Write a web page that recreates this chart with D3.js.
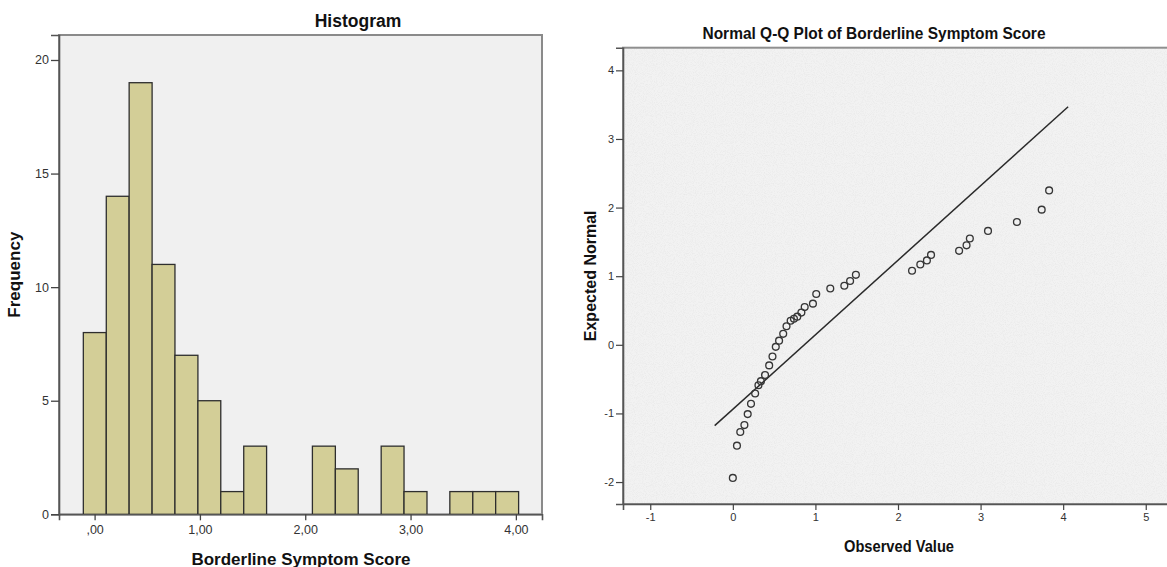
<!DOCTYPE html>
<html>
<head>
<meta charset="utf-8">
<script src="https://cdn.jsdelivr.net/npm/d3@7"></script>
<style>
  html, body { margin: 0; padding: 0; background: #ffffff; overflow: hidden; }
  svg { display: block; }
  text { font-family: "Liberation Sans", Arial, sans-serif; }
</style>
</head>
<body>
<svg id="chart" width="1167" height="567"></svg>
<script>
// Histogram of Borderline Symptom Score
const binEdges = [-0.107, 0.111, 0.328, 0.546, 0.763, 0.981, 1.198, 1.416, 1.633, 1.851,
                  2.068, 2.286, 2.503, 2.721, 2.938, 3.156, 3.373, 3.591, 3.808, 4.026];
const binCounts = [8, 14, 19, 11, 7, 5, 1, 3, 0, 0, 3, 2, 0, 3, 1, 0, 1, 1, 1];
const histXTicks = [0, 1, 2, 3, 4];
const histXTickLabels = [",00", "1,00", "2,00", "3,00", "4,00"];
const histYTicks = [0, 5, 10, 15, 20];

// Normal Q-Q plot: observed values against expected normal quantiles
const qqObserved = [0.00, 0.05, 0.09, 0.14, 0.18, 0.22, 0.27, 0.31, 0.34, 0.39,
                    0.44, 0.48, 0.52, 0.56, 0.61, 0.65, 0.70, 0.74, 0.78, 0.83,
                    0.87, 0.97, 1.01, 1.18, 1.35, 1.42, 1.49, 2.17, 2.27, 2.35,
                    2.40, 2.74, 2.83, 2.87, 3.09, 3.44, 3.74, 3.83];
const qqExpected = [-1.94, -1.47, -1.27, -1.17, -1.01, -0.86, -0.71, -0.59, -0.53, -0.44,
                    -0.30, -0.17, -0.03, 0.06, 0.16, 0.27, 0.35, 0.38, 0.41, 0.47,
                    0.55, 0.60, 0.74, 0.82, 0.86, 0.93, 1.02, 1.08, 1.17, 1.23,
                    1.31, 1.37, 1.45, 1.55, 1.66, 1.79, 1.97, 2.25];
const qqXTicks = [-1, 0, 1, 2, 3, 4, 5];
const qqYTicks = [-2, -1, 0, 1, 2, 3, 4];
// reference line: expected = (observed - mean) / sd
const refMean = 0.865;
const refSd = 0.921;
const refRange = [-0.22, 4.06];

const svg = d3.select("#chart");
const intLabel = d => String(d).replace("\u2212", "-");

// fine grain used on the Q-Q plot background
const defs = svg.append("defs");
const grain = defs.append("filter").attr("id", "grain")
  .attr("x", 0).attr("y", 0).attr("width", 1).attr("height", 1);
grain.append("feTurbulence").attr("type", "fractalNoise")
  .attr("baseFrequency", 1.1).attr("numOctaves", 1).attr("seed", 7).attr("result", "n");
grain.append("feColorMatrix").attr("type", "matrix")
  .attr("values", "0 0 0 0 0.45  0 0 0 0 0.45  0 0 0 0 0.45  0 0 0 -2.2 1.25");
grain.append("feComposite").attr("in2", "SourceGraphic").attr("operator", "in");

// ---------- Histogram ----------
const hx = d3.scaleLinear().domain([-0.338, 4.248]).range([59, 542]);
const hy = d3.scaleLinear().domain([0, 21.1]).range([514.3, 35]);

const hist = svg.append("g");
hist.append("rect")
  .attr("x", hx.range()[0]).attr("y", hy.range()[1])
  .attr("width", hx.range()[1] - hx.range()[0])
  .attr("height", hy.range()[0] - hy.range()[1])
  .attr("fill", "#f0f0f0")
  .attr("stroke", "#8a8a8a").attr("stroke-width", 2);

const bins = binCounts.map((c, i) => ({ x0: binEdges[i], x1: binEdges[i + 1], count: c }))
  .filter(b => b.count > 0);

hist.append("g").selectAll("rect").data(bins).join("rect")
  .attr("x", d => hx(d.x0))
  .attr("y", d => hy(d.count))
  .attr("width", d => hx(d.x1) - hx(d.x0))
  .attr("height", d => hy(0) - hy(d.count))
  .attr("fill", "#d3ce97")
  .attr("stroke", "#2e2e2e").attr("stroke-width", 1.3);

const hxAxis = hist.append("g").attr("transform", `translate(0,${hy(0)})`)
  .call(d3.axisBottom(hx).tickValues(histXTicks)
    .tickFormat((d, i) => histXTickLabels[i]).tickSizeOuter(0).tickSize(6).tickPadding(5));
const hyAxis = hist.append("g").attr("transform", `translate(${hx.range()[0]},0)`)
  .call(d3.axisLeft(hy).tickValues(histYTicks).tickSizeOuter(0).tickSize(8).tickPadding(2));

[hxAxis, hyAxis].forEach(a => {
  a.select(".domain").attr("stroke", "#555").attr("stroke-width", 1.6);
  a.selectAll(".tick line").attr("stroke", "#444").attr("stroke-width", 1.3);
  a.selectAll(".tick text").attr("fill", "#333").style("font-size", "12.5px");
});

hist.append("text").attr("x", 358).attr("y", 26.5)
  .attr("text-anchor", "middle").attr("font-weight", "bold")
  .style("font-size", "17.5px").attr("fill", "#111").text("Histogram");
hist.append("text").attr("x", 301).attr("y", 564.5)
  .attr("text-anchor", "middle").attr("font-weight", "bold")
  .style("font-size", "17px").attr("fill", "#111").text("Borderline Symptom Score");
hist.append("text")
  .attr("transform", `translate(20,${(hy.range()[0] + hy.range()[1]) / 2}) rotate(-90)`)
  .attr("text-anchor", "middle").attr("font-weight", "bold")
  .style("font-size", "17px").attr("fill", "#111").text("Frequency");

// ---------- Normal Q-Q plot ----------
const qx = d3.scaleLinear().domain([-1.33, 5.33]).range([623, 1173]);
const qy = d3.scaleLinear().domain([-2.32, 4.33]).range([504, 47.7]);

const qq = svg.append("g");
const plotRect = {
  x: qx.range()[0], y: qy.range()[1],
  w: qx.range()[1] - qx.range()[0], h: qy.range()[0] - qy.range()[1]
};
qq.append("rect")
  .attr("x", plotRect.x).attr("y", plotRect.y)
  .attr("width", plotRect.w).attr("height", plotRect.h)
  .attr("fill", "#f2f2f2");
qq.append("rect")
  .attr("x", plotRect.x).attr("y", plotRect.y)
  .attr("width", plotRect.w).attr("height", plotRect.h)
  .attr("fill", "#ffffff").attr("filter", "url(#grain)").attr("opacity", 0.16);
qq.append("rect")
  .attr("x", plotRect.x).attr("y", plotRect.y)
  .attr("width", plotRect.w).attr("height", plotRect.h)
  .attr("fill", "none")
  .attr("stroke", "#8f8f8f").attr("stroke-width", 2);

qq.append("line")
  .attr("x1", qx(refRange[0])).attr("y1", qy((refRange[0] - refMean) / refSd))
  .attr("x2", qx(refRange[1])).attr("y2", qy((refRange[1] - refMean) / refSd))
  .attr("stroke", "#2a2a2a").attr("stroke-width", 1.5);

qq.append("g").selectAll("circle").data(qqObserved).join("circle")
  .attr("cx", d => qx(d))
  .attr("cy", (d, i) => qy(qqExpected[i]))
  .attr("r", 3.4)
  .attr("fill", "none")
  .attr("stroke", "#363636").attr("stroke-width", 1.35);

const qxAxis = qq.append("g").attr("transform", `translate(0,${qy.range()[0]})`)
  .call(d3.axisBottom(qx).tickValues(qqXTicks).tickFormat(intLabel)
    .tickSizeOuter(0).tickSize(6).tickPadding(3));
const qyAxis = qq.append("g").attr("transform", `translate(${qx.range()[0]},0)`)
  .call(d3.axisLeft(qy).tickValues(qqYTicks).tickFormat(intLabel)
    .tickSizeOuter(0).tickSize(7).tickPadding(2));

[qxAxis, qyAxis].forEach(a => {
  a.select(".domain").attr("stroke", "#555").attr("stroke-width", 1.6);
  a.selectAll(".tick line").attr("stroke", "#444").attr("stroke-width", 1.2);
  a.selectAll(".tick text").attr("fill", "#333").style("font-size", "11px");
});

qq.append("text").attr("x", 874).attr("y", 39)
  .attr("text-anchor", "middle").attr("font-weight", "bold")
  .attr("textLength", 343).attr("lengthAdjust", "spacingAndGlyphs")
  .style("font-size", "16.5px").attr("fill", "#111")
  .text("Normal Q-Q Plot of Borderline Symptom Score");
qq.append("text").attr("x", 899).attr("y", 552)
  .attr("text-anchor", "middle").attr("font-weight", "bold")
  .attr("textLength", 110).attr("lengthAdjust", "spacingAndGlyphs")
  .style("font-size", "16px").attr("fill", "#111").text("Observed Value");
qq.append("text")
  .attr("transform", `translate(595.5,${(qy.range()[0] + qy.range()[1]) / 2}) rotate(-90)`)
  .attr("text-anchor", "middle").attr("font-weight", "bold")
  .style("font-size", "16px").attr("fill", "#111").text("Expected Normal");
</script>
</body>
</html>
